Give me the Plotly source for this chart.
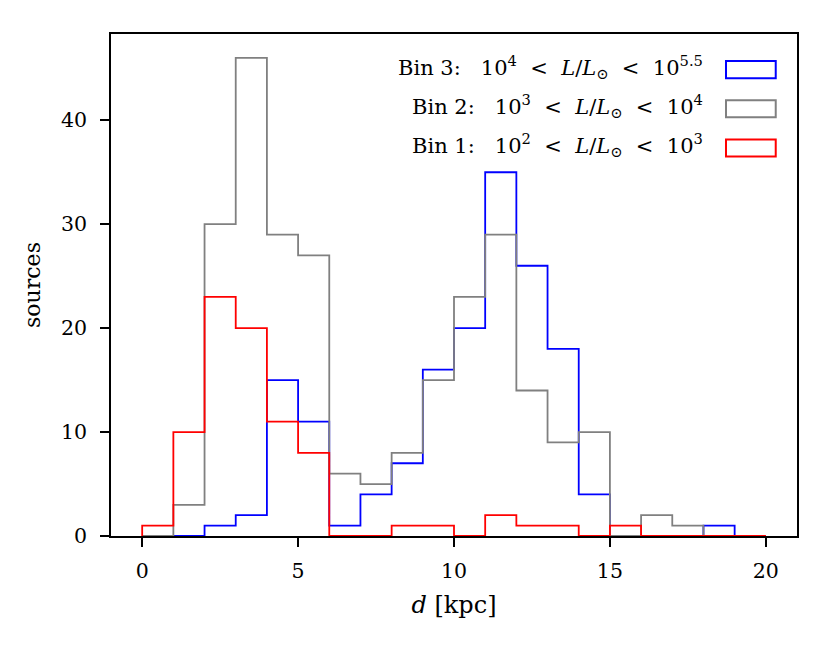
import numpy as np
import plotly.graph_objects as go

# bin edges in kpc, 1 kpc wide
bin_edges = list(range(0, 21))

# counts per bin
bin1_counts = [1, 10, 23, 20, 11, 8, 0, 0, 1, 1, 0, 2, 1, 1, 0, 1, 0, 0, 0, 0]
bin2_counts = [0, 3, 30, 46, 29, 27, 6, 5, 8, 15, 23, 29, 14, 9, 10, 0, 2, 1, 0, 0]
bin3_counts = [0, 0, 1, 2, 15, 11, 1, 4, 7, 16, 20, 35, 26, 18, 4, 0, 0, 0, 1, 0]

NB = "\u00a0"
LT = NB * 2 + "&lt;" + NB * 2
LUM = "<i>L</i>/<i>L</i><sub>⊙</sub>"
labels = [
    "Bin 3:" + NB * 3 + "10<sup>4</sup>" + LT + LUM + LT + "10<sup>5.5</sup>",
    "Bin 2:" + NB * 3 + "10<sup>3</sup>" + LT + LUM + LT + "10<sup>4</sup>",
    "Bin 1:" + NB * 3 + "10<sup>2</sup>" + LT + LUM + LT + "10<sup>3</sup>",
]
colors = ["#0000ff", "#808080", "#ff0000"]
series = [bin3_counts, bin2_counts, bin1_counts]

FONT = "DejaVu Serif"


def step_xy(edges, counts):
    # outline of a step histogram, closed down to zero at both ends
    xs = [edges[0]] + list(edges[:-1]) + [edges[-1]]
    ys = [0] + list(counts) + [0]
    return xs, ys


fig = go.Figure()
for counts, col, lab in zip(series, colors, labels):
    xs, ys = step_xy(bin_edges, counts)
    fig.add_trace(go.Scatter(x=xs, y=ys, mode="lines", line=dict(color=col, width=1.8, shape="hv"),
                             name=lab, showlegend=False, hoverinfo="skip"))

# hand-made legend: text on the left, open patch on the right
row_y = [0.929, 0.851, 0.773]
for yy, col, lab in zip(row_y, colors, labels):
    fig.add_annotation(x=0.866, y=yy, xref="paper", yref="paper", text=lab, showarrow=False,
                       xanchor="right", yanchor="middle", yshift=3,
                       font=dict(family=FONT, size=21, color="black"))
    fig.add_shape(type="rect", xref="paper", yref="paper", x0=0.8965, x1=0.969,
                  y0=yy - 0.017, y1=yy + 0.017, line=dict(color=col, width=2), fillcolor="white")

axis_common = dict(showline=True, linecolor="black", linewidth=1.8, mirror=True, ticks="outside",
                   ticklen=9, tickwidth=1.8, tickcolor="black", showgrid=False, zeroline=False,
                   tickfont=dict(family=FONT, size=20.5, color="black"))

fig.update_xaxes(range=[-1, 21], tickvals=[0, 5, 10, 15, 20], ticklabelstandoff=6,
                 title=dict(text="<i>d</i>" + NB + "[kpc]", font=dict(family=FONT, size=24, color="black"),
                            standoff=15),
                 **axis_common)
fig.update_yaxes(range=[0, 48.3], tickvals=[0, 10, 20, 30, 40], ticklabelstandoff=9,
                 title=dict(text="sources", font=dict(family=FONT, size=22, color="black"), standoff=14),
                 **axis_common)

fig.update_layout(width=822, height=638, margin=dict(l=103, r=33, t=26, b=110),
                  plot_bgcolor="white", paper_bgcolor="white")

fig.write_html("out.html")
